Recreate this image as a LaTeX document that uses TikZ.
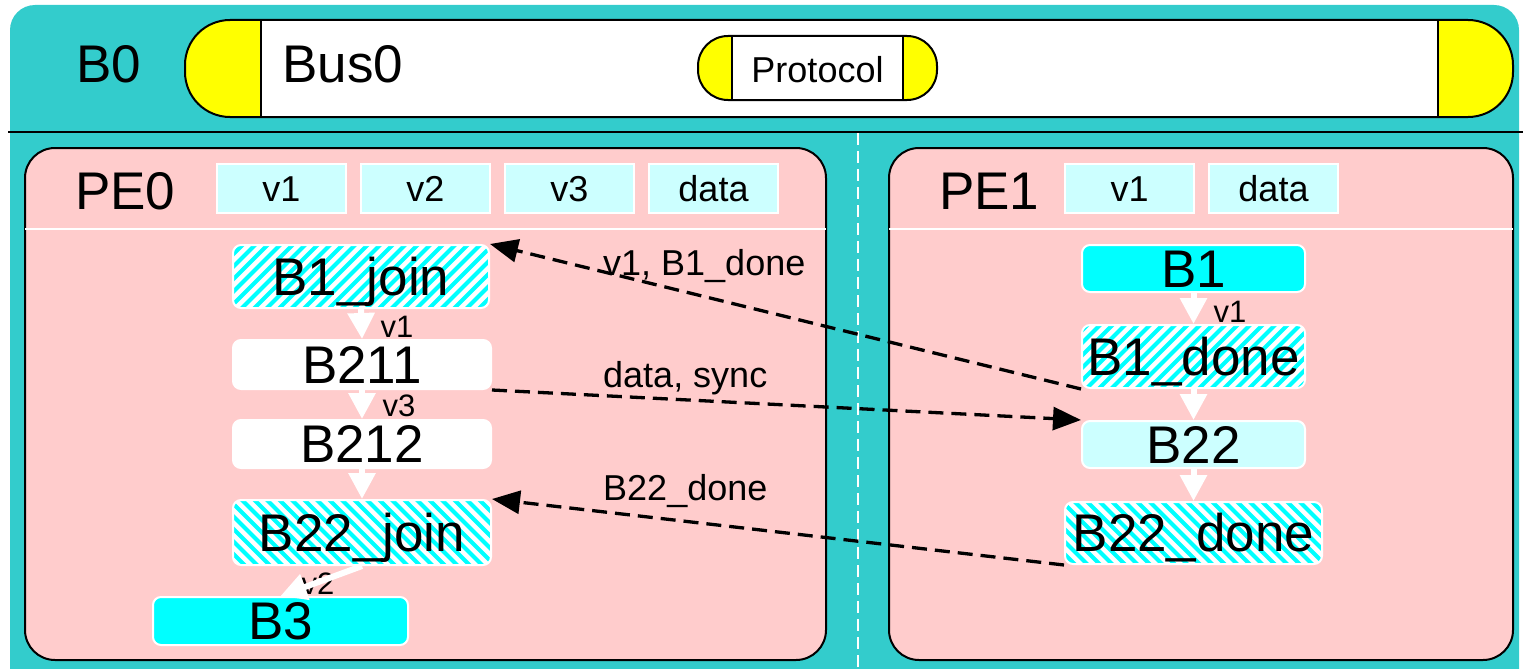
\documentclass[tikz,border=0pt]{standalone}
\usepackage{fontspec}
\setmainfont{Liberation Sans}
\usetikzlibrary{arrows.meta,calc}
\definecolor{busteal}{RGB}{51,204,204}
\definecolor{pepink}{RGB}{255,204,204}
\definecolor{lightcyan}{RGB}{204,255,255}
\definecolor{fullcyan}{RGB}{0,255,255}
\definecolor{capyellow}{RGB}{255,255,0}

\tikzset{
  bigtext/.style={font=\fontsize{53pt}{60pt}\selectfont, text height=37pt, text depth=0pt, inner sep=0pt},
  smalltext/.style={font=\fontsize{36pt}{42pt}\selectfont, text height=26pt, text depth=0pt, inner sep=0pt},
  flowtext/.style={font=\fontsize{31pt}{36pt}\selectfont, text height=22pt, text depth=0pt, inner sep=0pt},
  pebox/.style={draw=black, line width=2pt, fill=pepink, rounded corners=30pt, inner sep=0pt},
  hdrbox/.style={smalltext, draw=white, line width=2pt, fill=lightcyan, minimum width=129pt, minimum height=49pt},
  blk/.style={bigtext, draw=white, line width=2pt, rounded corners=8pt},
  plainblk/.style={blk, fill=white},
  cyanblk/.style={blk, fill=fullcyan},
  lcyanblk/.style={blk, fill=lightcyan},
  hatchne/.style={blk, fill=white, path picture={
      \foreach \k in {-22,...,22}
        \draw[fullcyan, line width=4.2pt]
          ($(path picture bounding box.center)+(\k*12.5-60,60)$) -- ++(120,-120);
    }},
  hatchnw/.style={blk, fill=white, path picture={
      \foreach \k in {-22,...,22}
        \draw[fullcyan, line width=4.2pt]
          ($(path picture bounding box.center)+(\k*12.5-60,-60)$) -- ++(120,120);
    }},
  flow/.style={white, line width=6pt, -{Triangle[length=26pt,width=26pt]}},
  msg/.style={black, line width=3.3pt, dash pattern=on 15pt off 8pt,
              -{Triangle[length=28pt,width=23pt]}},
}

\begin{document}
\begin{tikzpicture}[x=1pt,y=-1pt]
\useasboundingbox (0,0) rectangle (1523,669);

% bus background
\begin{scope}
  \clip (0,0) rectangle (1523,669);
  \fill[busteal, rounded corners=25pt] (10,5) rectangle (1519,720);
\end{scope}
\draw[line width=2pt] (8,132) -- (1523,132);
\draw[white, line width=2pt, dash pattern=on 12pt off 6pt] (858,133) -- (858,669);

% bus capsule with its two end caps
\draw[fill=capyellow, line width=2pt, rounded corners=45pt] (185,20) rectangle (1513,117);
\fill[white] (261,21) rectangle (1438,116);
\draw[line width=2pt] (261,20) -- (261,117) (1438,20) -- (1438,117);

% protocol capsule
\draw[fill=capyellow, line width=2pt, rounded corners=30pt] (698,36) rectangle (937,100);
\fill[white] (732,37) rectangle (903,99);
\draw[line width=2pt] (732,36) -- (732,100) (903,36) -- (903,100);
\node[smalltext] (proto) at (817.5,69) {Protocol};

\node[bigtext] (b0) at (109,63.5) {B0};
\node[bigtext, anchor=west] (bus0) at (282,63.5) {Bus0};

% processing elements
\node[pebox, minimum width=801pt, minimum height=512pt] (pe0) at (425.5,404) {};
\node[pebox, minimum width=624pt, minimum height=512pt] (pe1) at (1201,404) {};
\draw[white, line width=2pt] (25,229) -- (826,229);
\draw[white, line width=2pt] (889,229) -- (1513,229);

\node[bigtext, anchor=west] (pe0t) at (75,191) {PE0};
\node[bigtext, anchor=west] (pe1t) at (939,191) {PE1};

\node[hdrbox] (hv1) at (281.5,188.5) {v1};
\node[hdrbox] (hv2) at (425.5,188.5) {v2};
\node[hdrbox] (hv3) at (569.5,188.5) {v3};
\node[hdrbox] (hdata) at (713.5,188.5) {data};
\node[hdrbox] (qv1) at (1129.5,188.5) {v1};
\node[hdrbox] (qdata) at (1273.5,188.5) {data};

% blocks of PE0
\node[hatchne, minimum width=256pt, minimum height=63pt] (B1join) at (361,276.5) {B1\_join};
\node[plainblk, minimum width=258pt, minimum height=49pt] (B211) at (362,364.5) {B211};
\node[plainblk, minimum width=258pt, minimum height=48pt] (B212) at (362,444) {B212};
\node[hatchnw, minimum width=258pt, minimum height=65pt] (B22join) at (362,532.5) {B22\_join};
\node[cyanblk, minimum width=255pt, minimum height=48pt] (B3) at (280.5,621) {B3};

% blocks of PE1
\node[cyanblk, minimum width=223pt, minimum height=47pt] (B1) at (1193.5,268.5) {B1};
\node[hatchne, minimum width=223pt, minimum height=63pt] (B1done) at (1193.5,356.5) {B1\_done};
\node[lcyanblk, minimum width=223pt, minimum height=47pt] (B22) at (1193.5,444.5) {B22};
\node[hatchnw, minimum width=257pt, minimum height=62pt] (B22done) at (1193.5,533) {B22\_done};

% local flow labels
\node[flowtext] (lv1) at (397,326) {v1};
\node[flowtext] (lv3) at (399,405.5) {v3};
\node[flowtext] (lv2) at (318,583) {v2};
\node[flowtext] (rv1) at (1230,311) {v1};

% local flow
\draw[flow] (B1join.south) -- (B211.north);
\draw[flow] (B211.south) -- (B212.north);
\draw[flow] (B212.south) -- (B22join.north);
\draw[flow] (B22join.south) -- (B3.north);
\draw[flow] (B1.south) -- (B1done.north);
\draw[flow] (B1done.south) -- (B22.north);
\draw[flow] (B22.south) -- (B22done.north);

% messages between the processing elements
\node[smalltext, anchor=west] (m1) at (603,262) {v1, B1\_done};
\node[smalltext, anchor=west] (m2) at (603,374) {data, sync};
\node[smalltext, anchor=west] (m3) at (603,487) {B22\_done};
\draw[msg] (B1done.south west) -- (B1join.north east);
\draw[msg] (B211.south east) -- (B22.north west);
\draw[msg] (B22done.south west) -- (B22join.north east);
\end{tikzpicture}
\end{document}
